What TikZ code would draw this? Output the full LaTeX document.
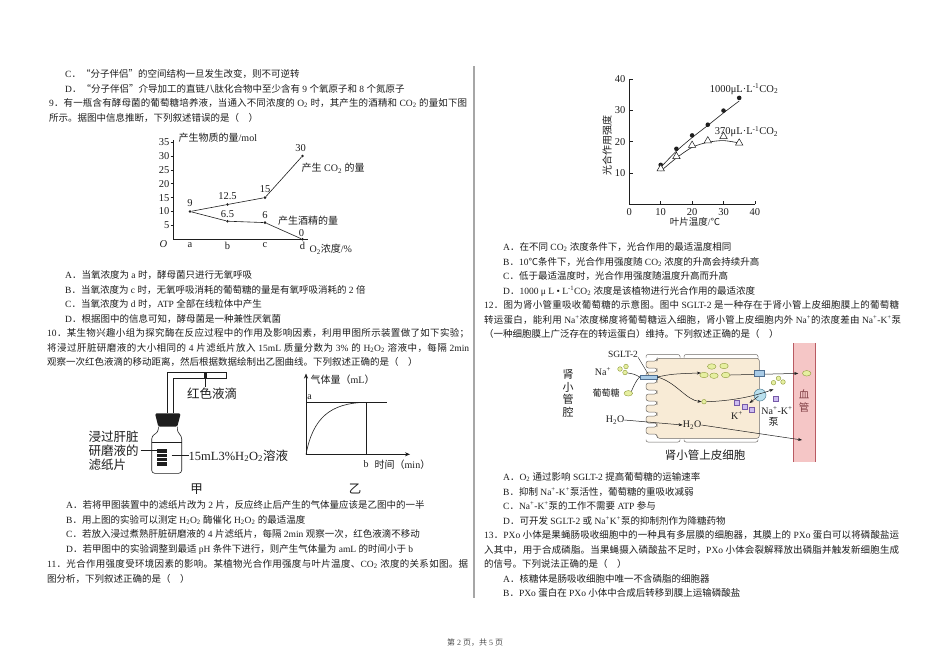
\documentclass[tikz,border=0pt]{standalone}
\usepackage{fontspec}
\setmainfont{Liberation Serif}
\newfontfamily\cjk{Noto Sans CJK SC}
\usetikzlibrary{arrows.meta,shapes.geometric}
\definecolor{cellf}{HTML}{F8EBD6}
\definecolor{celld}{HTML}{6E6A66}
\definecolor{vesf}{HTML}{F5C6C6}
\definecolor{vesd}{HTML}{B85A62}
\definecolor{glcf}{HTML}{E6EFA0}
\definecolor{olivec}{HTML}{8E9A3C}
\definecolor{tbf}{HTML}{A9CBE6}
\definecolor{tbd}{HTML}{4F6F91}
\definecolor{kf}{HTML}{CDBDF0}
\definecolor{kd}{HTML}{7659A8}
\definecolor{pumpf}{HTML}{B9E0EE}
\definecolor{pumpd}{HTML}{4F7F95}
\definecolor{inkc}{HTML}{1E1E1E}
\newcount\mycc
\newcommand\setcls[3]{\mycc=#1\relax\loop\XeTeXcharclass\mycc=#3\relax\advance\mycc by 1\relax\ifnum\mycc<#2\relax\repeat}
\setcls{"21}{"7F}{0}
\setcls{"4E00}{"A000}{7}
\setcls{"3000}{"3040}{7}
\setcls{"FF00}{"FFF0}{7}
\XeTeXcharclass"201C=7 \XeTeXcharclass"201D=7 \XeTeXcharclass"2103=7
\XeTeXcharclass"00B7=0 \XeTeXcharclass"2022=0 \XeTeXcharclass"03BC=0
\XeTeXinterchartoks 7 7 = {\hskip 0pt plus 1.5pt minus 0.4pt\relax}
\XeTeXinterchartoks 0 7 = {\hskip 0pt plus 1.5pt minus 0.4pt\relax\cjk}
\XeTeXinterchartoks 7 0 = {\hskip 0pt plus 1.5pt minus 0.4pt\relax\rmfamily}
\XeTeXinterchartoks 4095 7 = {\cjk}
\XeTeXinterchartoks 7 4095 = {\rmfamily}
\XeTeXinterchartokenstate=1
\newcommand\sub[1]{\textsubscript{#1}}
\newcommand\sps[1]{\textsuperscript{#1}}
\newcommand\TL[4]{\node[txt] (#1) at (#2,#3) {#4};}
\newcommand\JL[5]{\node[txt] (#1) at (#2,#3) {\makebox[#4pt][s]{#5}};}
\begin{document}
\begin{tikzpicture}[x=1pt,y=-1pt,
  txt/.style={anchor=base west,inner sep=0pt,text=inkc,font=\fontsize{9.5}{11}\selectfont},
  lab/.style={inner sep=0pt,text=inkc,font=\fontsize{9}{10}\selectfont},
  num/.style={inner sep=0pt,text=inkc,font=\fontsize{10.5}{11}\selectfont},
  mid/.style={inner sep=0pt,text=inkc,font=\fontsize{10}{11}\selectfont},
  big/.style={inner sep=0pt,text=inkc,font=\fontsize{12.5}{13.8}\selectfont},
  ax/.style={line width=0.6pt,draw=inkc},
  dot/.style={circle,fill=inkc,inner sep=0pt,minimum size=4.6pt},
  sdot/.style={circle,fill=inkc,inner sep=0pt,minimum size=2.8pt},
  tri/.style={regular polygon,regular polygon sides=3,draw=inkc,fill=white,inner sep=0pt,minimum size=8.5pt,line width=0.5pt},
  glc/.style={ellipse,draw=olivec,fill=glcf,inner sep=0pt,minimum width=8.5pt,minimum height=5.5pt,line width=0.4pt},
  na/.style={circle,draw=olivec,fill=glcf,inner sep=0pt,minimum size=4.6pt,line width=0.4pt},
  kk/.style={rectangle,draw=kd,fill=kf,inner sep=0pt,minimum size=5pt,line width=0.4pt},
  arr/.style={-{Stealth[length=4pt,width=3pt]},line width=0.5pt,draw=inkc},
]
\fill[white] (0,0) rectangle (950,670);
\path[use as bounding box] (0,0) rectangle (950,670);

% ---------------- left column text ----------------
\TL{l1}{65}{77.5}{C．“分子伴侣”的空间结构一旦发生改变，则不可逆转}
\TL{l2}{65}{92}{D．“分子伴侣”介导加工的直链八肽化合物中至少含有 9 个氧原子和 8 个氮原子}
\JL{l3}{49}{106.5}{418}{9．有一瓶含有酵母菌的葡萄糖培养液，当通入不同浓度的 O\sub{2} 时，其产生的酒精和 CO\sub{2} 的量如下图}
\TL{l4}{49}{121}{所示。据图中信息推断，下列叙述错误的是（　）}

% ---------------- graph 9 ----------------
\coordinate (o9) at (173.3,239.3);
\draw[ax] (173.3,140) -- (o9) -- (308,239.3);
\foreach \v in {5,10,...,35}{
  \draw[ax] (170.5,239.3-\v*2.78) -- (173.3,239.3-\v*2.78);
  \node[num,anchor=east] (yt\v) at (169.5,239.3-\v*2.78) {\v};
}
\node[num,font=\fontsize{10.5}{11}\selectfont\itshape] (oo) at (163.5,244) {O};
\node[num] (xa) at (190,245.5) {a};
\node[num] (xb) at (227.5,245.5) {b};
\node[num] (xc) at (265,245.5) {c};
\node[num] (xd) at (302.5,245.5) {d};
\node[mid,anchor=west] (xl9) at (309.5,249.5) {O\sub{2}浓度/\%};
\node[mid,anchor=west] (yl9) at (178.5,137.5) {产生物质的量/mol};
\node[sdot] (pa) at (190,211.5) {};
\node[sdot] (pb1) at (227.5,204.5) {};
\node[sdot] (pc1) at (265,197.6) {};
\node[sdot] (pd1) at (302.5,155.9) {};
\node[sdot] (pb2) at (227.5,221.2) {};
\node[sdot] (pc2) at (265,222.6) {};
\node[sdot] (pd2) at (302.5,239.3) {};
\draw[ax] (pa) -- (pb1) -- (pc1) -- (pd1);
\draw[ax] (pa) -- (pb2) -- (pc2) -- (pd2);
\node[num] (v9) at (190,203.5) {9};
\node[num] (v125) at (227.5,196.5) {12.5};
\node[num] (v15) at (265,189.5) {15};
\node[num] (v30) at (300.5,148.5) {30};
\node[num] (v65) at (227.5,214.5) {6.5};
\node[num] (v6) at (265,215.5) {6};
\node[num] (v0) at (301.5,233) {0};
\node[mid,anchor=west] (cco2) at (301.5,168.3) {产生 CO\sub{2} 的量};
\node[mid,anchor=west] (calc) at (278,220.7) {产生酒精的量};

% ---------------- Q9 options, Q10 ----------------
\TL{q9a}{65}{278.5}{A．当氧浓度为 a 时，酵母菌只进行无氧呼吸}
\TL{q9b}{65}{293}{B．当氧浓度为 c 时，无氧呼吸消耗的葡萄糖的量是有氧呼吸消耗的 2 倍}
\TL{q9c}{65}{307.5}{C．当氧浓度为 d 时，ATP 全部在线粒体中产生}
\TL{q9d}{65}{322}{D．根据图中的信息可知，酵母菌是一种兼性厌氧菌}
\JL{q10a}{47}{336.5}{422}{10．某生物兴趣小组为探究酶在反应过程中的作用及影响因素，利用甲图所示装置做了如下实验；}
\JL{q10b}{47}{351}{422}{将浸过肝脏研磨液的大小相同的 4 片滤纸片放入 15mL 质量分数为 3\% 的 H\sub{2}O\sub{2} 溶液中，每隔 2min}
\TL{q10c}{47}{365.5}{观察一次红色液滴的移动距离，然后根据数据绘制出乙图曲线。下列叙述正确的是（　）}

% ---------------- figure 10 apparatus ----------------
\draw[line width=0.6pt,draw=inkc] (167.3,413.3) -- (167.3,372.3) -- (226.7,372.3) -- (226.7,378.3) -- (173.3,378.3) -- (173.3,413.3);
\node[fill=inkc,inner sep=0pt,minimum width=3.5pt,minimum height=6pt] (drop) at (205.5,375.3) {};
\coordinate (dropl) at (205.5,386.5);
\draw[line width=0.5pt,draw=inkc] (drop.south) -- (dropl);
\node[big] (dropt) at (212,393.5) {红色液滴};
\fill[inkc,rounded corners=1.5pt] (155,413.3) -- (180.7,413.3) -- (177.3,426.7) -- (158.3,426.7) -- cycle;
\draw[line width=0.6pt,draw=inkc,rounded corners=3pt] (158.3,426.7) -- (158.3,432) -- (151.7,436) -- (151.7,473.3) -- (181.7,473.3) -- (181.7,436) -- (177.3,432) -- (177.3,426.7);
\draw[line width=0.5pt,draw=inkc] (151.7,442.3) -- (181.7,442.3);
\node[fill=inkc,minimum width=10pt,minimum height=17pt,inner sep=0pt] (filt) at (161.7,457.3) {};
\foreach \yy in {453.2,457.3,461.4}{\draw[white,line width=0.8pt] (156.7,\yy) -- (166.7,\yy);}
\node[big,align=left,anchor=west] (fl) at (88.5,450.5) {浸过肝脏\\研磨液的\\滤纸片};
\coordinate (fll) at (140.5,450.7);
\coordinate (filtp) at (156.7,450.7);
\draw[line width=0.6pt,draw=inkc] (fll) -- (filtp);
\node[big,anchor=west] (sol) at (188.5,455.7) {15mL3\%H\sub{2}O\sub{2}溶液};
\coordinate (soll) at (171.7,455.7);
\draw[line width=0.6pt,draw=inkc] (soll) -- (sol.west);
\node[big] (jia) at (196.7,489) {甲};

% ---------------- graph 乙 ----------------
\coordinate (o10) at (306,454.3);
\draw[ax,-{Stealth[length=5pt,width=4pt]}] (o10) -- (306,373.5);
\draw[ax,-{Stealth[length=5pt,width=4pt]}] (o10) -- (410,454.3);
\node[mid,anchor=west] (gl) at (310.5,380) {气体量（mL）};
\coordinate (ya) at (306,402.3);
\coordinate (ae) at (386.7,402.3);
\coordinate (bt10) at (366,402.3);
\coordinate (bb10) at (366,454.3);
\draw[ax] (ya) -- (ae);
\draw[ax] (bt10) -- (bb10);
\draw[ax] (o10) .. controls (313,418) and (330,403) .. (bt10);
\node[mid] (la) at (309.5,397.3) {a};
\node[mid] (lb) at (366,464.3) {b};
\node[mid,anchor=west] (tl) at (374.5,464.3) {时间（min）};
\node[big] (yi) at (355,489) {乙};

% ---------------- Q10 options, Q11 ----------------
\TL{q10oa}{66}{508.5}{A．若将甲图装置中的滤纸片改为 2 片，反应终止后产生的气体量应该是乙图中的一半}
\TL{q10ob}{66}{523}{B．用上图的实验可以测定 H\sub{2}O\sub{2} 酶催化 H\sub{2}O\sub{2} 的最适温度}
\TL{q10oc}{66}{537.5}{C．若放入浸过煮熟肝脏研磨液的 4 片滤纸片，每隔 2min 观察一次，红色液滴不移动}
\TL{q10od}{66}{552.5}{D．若甲图中的实验调整到最适 pH 条件下进行，则产生气体量为 amL 的时间小于 b}
\JL{q11a}{47}{567.5}{421}{11．光合作用强度受环境因素的影响。某植物光合作用强度与叶片温度、CO\sub{2} 浓度的关系如图。据}
\TL{q11b}{47}{582}{图分析，下列叙述正确的是（　）}

% ---------------- divider ----------------
\coordinate (dv1) at (474,66);
\coordinate (dv2) at (474,598);
\draw[line width=1.3pt,gray!70] (dv1) -- (dv2);

% ---------------- graph 11 ----------------
\coordinate (o11) at (629.3,204.3);
\draw[ax] (629.3,79) -- (o11) -- (755,204.3);
\foreach \v/\yy in {10/173,20/141.7,30/110.4,40/79.1}{
  \draw[ax] (629.3,\yy) -- (633,\yy);
  \node[num,anchor=east] (gy\v) at (625.5,\yy) {\v};
}
\foreach \v/\xx in {10/660.7,20/692.1,30/723.5,40/754.9}{
  \draw[ax] (\xx,204.3) -- (\xx,200.8);
  \node[num] (gx\v) at (\xx,212) {\v};
}
\node[num] (gx0) at (629.3,212) {0};
\node[mid,rotate=90] (gyl) at (607,145) {光合作用强度};
\node[lab,font=\fontsize{9.5}{10}\selectfont] (gxl) at (695,222) {叶片温度/℃};
\draw[ax] plot[smooth] coordinates {(660.7,167.4) (676.4,151.1) (692.1,137.6) (707.8,125.4) (723.5,112.9) (739.2,101)};
\draw[ax] plot[smooth] coordinates {(660.7,171.1) (676.4,158) (692.1,147.3) (707.8,142.3) (723.5,140.6) (739.2,143)};
\node[dot] (d1) at (660.7,164.9) {};
\node[dot] (d2) at (676.4,148.8) {};
\node[dot] (d3) at (692.1,135.4) {};
\node[dot] (d4) at (707.8,124.7) {};
\node[dot] (d5) at (723.5,110.6) {};
\node[dot] (d6) at (739.2,97.9) {};
\node[tri] (t1) at (660.7,168.7) {};
\node[tri] (t2) at (676.4,156.4) {};
\node[tri] (t3) at (692.1,145.3) {};
\node[tri] (t4) at (707.8,140.8) {};
\node[tri] (t5) at (723.5,136.4) {};
\node[tri] (t6) at (739.2,143) {};
\node[num] (c1000) at (744,89) {1000μL·L\sps{-1}CO\sub{2}};
\node[num] (c370) at (746.5,131.7) {370μL·L\sps{-1}CO\sub{2}};

% ---------------- right column text ----------------
\TL{q11oa}{503}{250.5}{A．在不同 CO\sub{2} 浓度条件下，光合作用的最适温度相同}
\TL{q11ob}{503}{265}{B．10℃条件下，光合作用强度随 CO\sub{2} 浓度的升高会持续升高}
\TL{q11oc}{503}{279.5}{C．低于最适温度时，光合作用强度随温度升高而升高}
\TL{q11od}{503}{294}{D．1000 μ L • L\sps{-1}CO\sub{2} 浓度是该植物进行光合作用的最适浓度}
\JL{q12a}{484}{308.5}{415}{12．图为肾小管重吸收葡萄糖的示意图。图中 SGLT-2 是一种存在于肾小管上皮细胞膜上的葡萄糖}
\JL{q12b}{484}{323}{417}{转运蛋白，能利用 Na\sps{+}浓度梯度将葡萄糖运入细胞，肾小管上皮细胞内外 Na\sps{+}的浓度差由 Na\sps{+}-K\sps{+}泵}
\TL{q12c}{484}{337.5}{（一种细胞膜上广泛存在的转运蛋白）维持。下列叙述正确的是（　）}

% ---------------- figure 12 ----------------
\fill[vesf] (793.3,343.3) rectangle (815,461.7);
\draw[vesd,line width=0.7pt] (793.3,343.3) -- (793.3,461.7) (815,343.3) -- (815,461.7);
\node[mid,align=center,text=vesd!70!black,font=\fontsize{10.5}{13}\selectfont] (xg) at (804,401.5) {血\\管};
\filldraw[fill=cellf,draw=celld,line width=0.5pt,rounded corners=2.5pt] (759.3,358.3) -- (657,358.3)
  \foreach \t in {361,372,383,394,405,416,427}{ -- (657,\t) -- (646,\t) -- (646,\t+7) -- (657,\t+7) }
  -- (657,438.3) -- (759.3,438.3) -- cycle;
\draw[celld,line width=0.5pt,rounded corners=2pt] (646,357.5) -- (646,354.5) -- (680,354.5) -- (680,357.5);
\draw[celld,line width=0.5pt,rounded corners=2pt] (684,357.5) -- (684,354.5) -- (758,354.5) -- (758,357.5);
\draw[celld,line width=0.5pt,rounded corners=2pt] (646,439.5) -- (646,442) -- (680,442) -- (680,439.5);
\draw[celld,line width=0.5pt,rounded corners=2pt] (684,439.5) -- (684,442) -- (758,442) -- (758,439.5);
\node[mid,align=center,font=\fontsize{11}{12.4}\selectfont] (qiang) at (568,393.5) {肾\\小\\管\\腔};
\node[mid,font=\fontsize{9.5}{10}\selectfont] (sgltl) at (623,354) {SGLT-2};
\node[mid] (nal) at (603,371.5) {Na\sps{+}};
\node[na] (na1) at (620,369) {};
\node[na] (na2) at (626,366.5) {};
\node[na] (na3) at (625,372.5) {};
\node[lab] (glcl) at (606,393.3) {葡萄糖};
\node[glc] (g0) at (628.3,393.3) {};
\node[draw=tbd,fill=tbf,minimum width=17pt,minimum height=4.5pt,inner sep=0pt,line width=0.4pt] (sglt) at (648.5,377) {};
\draw[line width=0.4pt,draw=inkc] (sgltl.south east) -- (sglt.north);
\draw[line width=0.5pt,draw=inkc] (na3) .. controls (634,374) .. (sglt.west);
\draw[line width=0.5pt,draw=inkc] (g0.north east) .. controls (634,385) and (637,379) .. (sglt.west);
\node[glc] (g1) at (711.7,366.5) {};
\node[glc] (g2) at (724,366) {};
\node[glc] (g3) at (704,375) {};
\node[glc] (g4) at (714,375.7) {};
\node[glc] (g5) at (725.7,375) {};
\node[na] (nai) at (704,401.7) {};
\draw[arr] (sglt.east) .. controls (672,374) .. (g3.north west);
\draw[arr] (sglt.east) .. controls (676,382) and (686,400) .. (nai.west);
\node[glc] (g6) at (806.7,373.3) {};
\draw[arr,shorten >=4pt] (g5.east) -- (g6.west);
\node[draw=tbd,fill=tbf,minimum width=10pt,minimum height=6pt,inner sep=0pt,line width=0.4pt] (bt) at (759.3,373.3) {};
\node[circle,draw=pumpd,fill=pumpf,minimum size=12pt,inner sep=0pt,line width=0.5pt] (pump) at (760,395) {};
\node[na] (na4) at (773.5,382.7) {};
\node[na] (na5) at (778.5,378.3) {};
\node[na] (na6) at (783,382) {};
\coordinate (naout) at (773.5,389.3);
\draw[arr] (nai.east) .. controls (730,401) and (752,397) .. (naout);
\node[kk] (k1) at (737,403) {};
\node[kk] (k2) at (744.5,407) {};
\node[kk] (k3) at (752,409.5) {};
\node[kk] (k4) at (775.5,398.5) {};
\coordinate (kin) at (749.5,403);
\draw[arr,shorten <=2pt] (pump.center) -- (kin);
\node[mid] (kl) at (737,415.5) {K\sps{+}};
\node[mid] (nkl) at (777,410.5) {Na\sps{+}-K\sps{+}};
\node[mid] (beng) at (773.5,422) {泵};
\node[mid] (h1) at (615,420) {H\sub{2}O};
\node[mid] (h2) at (692,425) {H\sub{2}O};
\coordinate (hv) at (802,440);
\draw[arr] (h1.east) -- (h2.west);
\draw[arr] (h2.east) -- (hv);
\node[mid,font=\fontsize{11.5}{12}\selectfont] (cellt) at (705,455.5) {肾小管上皮细胞};

% ---------------- Q12 options, Q13 ----------------
\TL{q12oa}{503}{480.5}{A．O\sub{2} 通过影响 SGLT-2 提高葡萄糖的运输速率}
\TL{q12ob}{503}{495}{B．抑制 Na\sps{+}-K\sps{+}泵活性，葡萄糖的重吸收减弱}
\TL{q12oc}{503}{509.5}{C．Na\sps{+}-K\sps{+}泵的工作不需要 ATP 参与}
\TL{q12od}{503}{524}{D．可开发 SGLT-2 或 Na\sps{+}K\sps{+}泵的抑制剂作为降糖药物}
\JL{q13a}{484}{538.5}{415}{13．PXo 小体是果蝇肠吸收细胞中的一种具有多层膜的细胞器，其膜上的 PXo 蛋白可以将磷酸盐运}
\JL{q13b}{484}{553}{415}{入其中，用于合成磷脂。当果蝇摄入磷酸盐不足时，PXo 小体会裂解释放出磷脂并触发新细胞生成}
\TL{q13c}{484}{567.5}{的信号。下列说法正确的是（　）}
\TL{q13oa}{503}{582}{A．核糖体是肠吸收细胞中唯一不含磷脂的细胞器}
\TL{q13ob}{503}{596.5}{B．PXo 蛋白在 PXo 小体中合成后转移到膜上运输磷酸盐}

% ---------------- footer ----------------
\node[inner sep=0pt,text=gray!60!black,font=\fontsize{8}{9}\selectfont] (foot) at (475,642.5) {第 2 页，共 5 页};
\end{tikzpicture}
\end{document}
